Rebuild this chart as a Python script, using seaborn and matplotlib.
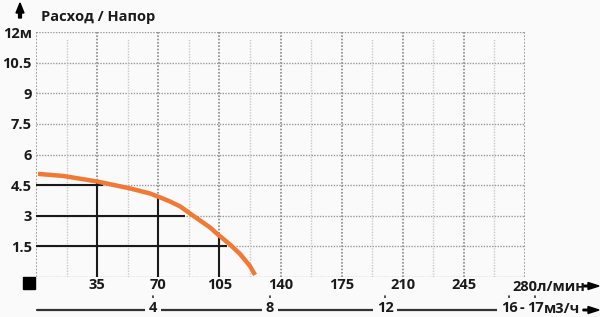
import numpy as np
import pandas as pd
import matplotlib
matplotlib.use("Agg")
import matplotlib.pyplot as plt
import seaborn as sns

# ---- data ----
flow_lpm = [1.15, 15.5, 34.9, 53.8, 65.3, 71.0, 76.7, 82.5, 88.2, 93.9, 99.6, 104.2,
            111.1, 116.8, 122.5, 125.4]
head_m = [5.05, 4.95, 4.68, 4.34, 4.09, 3.90, 3.70, 3.46, 3.11, 2.77, 2.43, 2.08,
          1.59, 1.13, 0.54, 0.10]

x_ticks = [35, 70, 105, 140, 175, 210, 245, 280]
x_minor = [17.5, 52.5, 87.5, 122.5, 157.5, 192.5, 227.5, 262.5]
y_ticks = [1.5, 3, 4.5, 6, 7.5, 9, 10.5, 12]
y_labels = ["1.5", "3", "4.5", "6", "7.5", "9", "10.5", "12м"]

ref_flows = [35, 70, 105]            # vertical guide lines
ref_heads = [4.5, 3, 1.5]            # horizontal guide lines
ref_head_ends = [38.5, 85.5, 109.5]  # where horizontal guides stop

m3h_labels = ["4", "8", "12", "16", "17"]
m3h_pos_lpm = [67, 134, 200, 271, 286]   # where those marks sit on the l/min scale

title = "Расход / Напор"
x_unit = "л/мин"
x2_unit = "м3/ч"

# ---- style ----
sns.set_theme(style="white")
BG = "#fafafa"
plt.rcParams["font.family"] = ["Open Sans", "DejaVu Sans"]
FS = 10.5
DARK = "#1a1a1a"

fig = plt.figure(figsize=(6.0, 3.17), dpi=100, facecolor=BG)
ax = fig.add_axes([36 / 600, 40 / 317, 489 / 600, 245 / 317])
ax.set_facecolor(BG)
ax.set_xlim(0, 280)
ax.set_ylim(0, 12)
for s in ax.spines.values():
    s.set_visible(False)

# grid
ax.hlines([0] + y_ticks, 0, 280, colors="#9a9a9a", linestyles=(0, (1, 1)), lw=1.0, zorder=1)
ax.vlines([0] + x_ticks, 0, 12, colors="#8a8a8a", linestyles=(0, (1, 1)), lw=1.2, zorder=1)
ax.vlines(x_minor, 0, 11.65, colors="#c8c8c8", linestyles=(0, (1, 1)), lw=1.0, zorder=1)

# guide lines
df = pd.DataFrame({"flow": flow_lpm, "head": head_m})
xs = np.array(flow_lpm)
ys = np.array(head_m)
for f in ref_flows:
    h = np.interp(f, xs, ys)
    ax.vlines(f, 0, h, colors=DARK, lw=1.5, zorder=2)
for h, e in zip(ref_heads, ref_head_ends):
    ax.hlines(h, 0, e, colors=DARK, lw=1.5, zorder=2)

# curve
sns.lineplot(data=df, x="flow", y="head", ax=ax, color="#f07a35", lw=3.2,
             zorder=3, solid_capstyle="butt")
ax.set_xlabel("")
ax.set_ylabel("")

# ticks
ax.set_xticks(x_ticks)
ax.set_xticklabels([str(v) if v != x_ticks[-1] else "" for v in x_ticks],
                   fontsize=FS, fontweight="bold", color=DARK)
ax.set_yticks(y_ticks)
ax.set_yticklabels(y_labels, fontsize=FS, fontweight="bold", color=DARK)
ax.tick_params(axis="both", length=0, pad=3)
ax.tick_params(axis="x", pad=1)

# last x label with unit
fig.text(512 / 600, 1 - 287 / 317, str(x_ticks[-1]) + x_unit, fontsize=FS, fontweight="bold",
         color=DARK, va="center", ha="left")

# black origin square
fig.patches.append(plt.Rectangle((23 / 600, 1 - 289 / 317), 12 / 600, 12 / 317,
                                 transform=fig.transFigure, color="black"))

# title and y arrow
fig.text(41 / 600, 1 - 17 / 317, title, fontsize=FS, fontweight="bold", color=DARK,
         va="center", ha="left")
fig.patches.append(matplotlib.patches.FancyArrow(20 / 600, 1 - 18 / 317, 0, 15 / 317,
                   width=1.5 / 317, head_width=8 / 600, head_length=10 / 317,
                   transform=fig.transFigure, color="black", length_includes_head=True))

# arrows for x scales
for yy in (286, 310):
    fig.patches.append(matplotlib.patches.FancyArrow(583 / 600, 1 - yy / 317, 16 / 600, 0,
                       width=1.5 / 317, head_width=7 / 317, head_length=11 / 600,
                       transform=fig.transFigure, color="black", length_includes_head=True))

# secondary (m3/h) scale
ytr = 1 - 310 / 317
trans = matplotlib.transforms.blended_transform_factory(ax.transData, fig.transFigure)
line = matplotlib.lines.Line2D([0.5, 264], [ytr, ytr], transform=trans, color="#333333", lw=1.6)
fig.lines.append(line)
for lab, p in zip(m3h_labels, m3h_pos_lpm):
    fig.text(p, 1 - 308 / 317, lab, transform=trans, fontsize=FS, fontweight="bold",
             color=DARK, ha="center", va="center",
             bbox=dict(facecolor=BG, edgecolor="none", pad=2.5))
    tick = matplotlib.lines.Line2D([p, p], [1 - 300 / 317, 1 - 296 / 317], transform=trans,
                                   color="#333333", lw=1.2)
    fig.lines.append(tick)
fig.text((m3h_pos_lpm[3] + m3h_pos_lpm[4]) / 2, 1 - 308 / 317, "-", transform=trans,
         fontsize=FS, fontweight="bold", color=DARK, ha="center", va="center")
fig.text(m3h_pos_lpm[4] + 5, 1 - 309 / 317, x2_unit, transform=trans, fontsize=FS,
         fontweight="bold", color=DARK, ha="left", va="center")

fig.savefig("out.png", dpi=100, facecolor=BG)
